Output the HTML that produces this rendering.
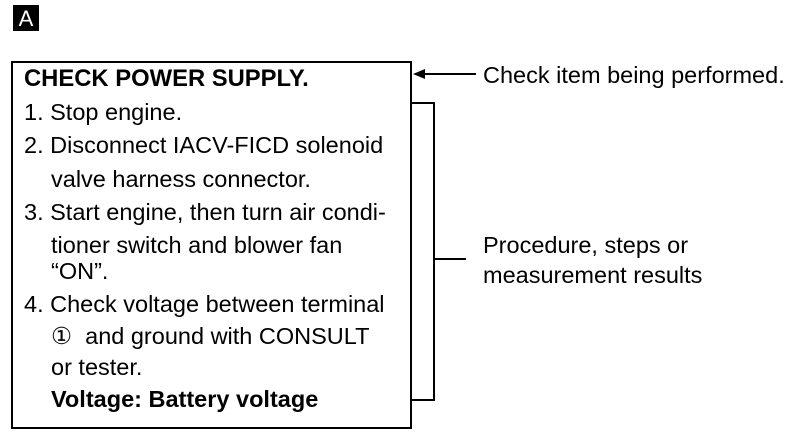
<!DOCTYPE html>
<html><head><style>
body{margin:0;width:800px;height:436px;background:#fff;position:relative;font-family:"Liberation Sans",Arial,sans-serif;color:#000;overflow:hidden}
.t{position:absolute;font-size:23.5px;white-space:nowrap;line-height:24px}
.b{font-weight:bold}
</style></head><body>
<div style="position:absolute;left:13px;top:5px;width:26px;height:26px;background:#000;color:#fff;font-size:22px;text-align:center;line-height:27px">A</div>
<div style="position:absolute;left:11px;top:61px;width:397px;height:364px;border:2px solid #000"></div>
<svg style="position:absolute;left:0;top:0" width="800" height="436">
<polyline points="410,103 434,103 434,400 410,400" fill="none" stroke="#000" stroke-width="2"/>
<line x1="434" y1="259" x2="466" y2="259" stroke="#000" stroke-width="2"/>
<line x1="420" y1="74" x2="476" y2="74" stroke="#000" stroke-width="2"/>
<polygon points="413,74 425,69 425,79" fill="#000"/>
</svg>
<div class="t b" style="left:24px;top:67px;font-size:23.8px">CHECK POWER SUPPLY.</div>
<div class="t" style="left:24px;top:100px">1. Stop engine.</div>
<div class="t" style="left:24px;top:133px">2. Disconnect IACV-FICD solenoid</div>
<div class="t" style="left:51px;top:167px">valve harness connector.</div>
<div class="t" style="left:24px;top:200px">3. Start engine, then turn air condi-</div>
<div class="t" style="left:51px;top:233px">tioner switch and blower fan</div>
<div class="t" style="left:51px;top:259px">“ON”.</div>
<div class="t" style="left:24px;top:292px">4. Check voltage between terminal</div>
<div class="t" style="left:51px;top:324px">① &nbsp;and ground with CONSULT</div>
<div class="t" style="left:51px;top:355px">or tester.</div>
<div class="t b" style="left:51px;top:387px;font-size:23.5px">Voltage: Battery voltage</div>
<div class="t" style="left:483px;top:63px">Check item being performed.</div>
<div class="t" style="left:483px;top:233px">Procedure, steps or</div>
<div class="t" style="left:483px;top:263px">measurement results</div>
</body></html>
